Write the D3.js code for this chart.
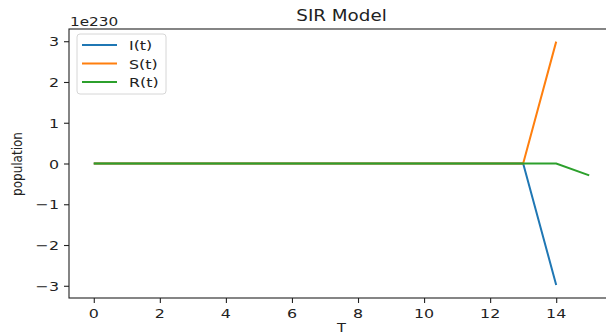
<!DOCTYPE html>
<html>
<head>
<meta charset="utf-8">
<script src="https://cdn.jsdelivr.net/npm/d3@7"></script>
<style>
  body { margin: 0; background: #fff; }
  svg { display: block; font-family: "DejaVu Sans", sans-serif; }
</style>
</head>
<body>
<svg id="chart" width="606" height="334"></svg>
<script>
// values in units of 1e230 (the axis offset)
const tI = [0, 1, 2, 3, 4, 5, 6, 7, 8, 9, 10, 11, 12, 13, 14];
const tS = [0, 1, 2, 3, 4, 5, 6, 7, 8, 9, 10, 11, 12, 13, 14];
const tR = [0, 1, 2, 3, 4, 5, 6, 7, 8, 9, 10, 11, 12, 13, 14, 15];
const I = [0, 0, 0, 0, 0, 0, 0, 0, 0, 0, 0, 0, 0, 0, -2.98];
const S = [0, 0, 0, 0, 0, 0, 0, 0, 0, 0, 0, 0, 0, 0, 2.99];
const R = [0, 0, 0, 0, 0, 0, 0, 0, 0, 0, 0, 0, 0, 0, 0, -0.29];
const xTicks = [0, 2, 4, 6, 8, 10, 12, 14];
const yTicks = [-3, -2, -1, 0, 1, 2, 3];
const offsetLabel = '1e230';

const series = [
  { name: 'I(t)', t: tI, v: I, color: '#1f77b4' },
  { name: 'S(t)', t: tS, v: S, color: '#ff7f0e' },
  { name: 'R(t)', t: tR, v: R, color: '#2ca02c' }
];

const svg = d3.select('#chart');
const mLeft = 69, mTop = 29, mBottom = 298, mRight = 614;
const sx = 1.22; // picture is a bit stretched sideways

const x = d3.scaleLinear().domain([-0.75, 15.75]).range([mLeft, mRight]);
const y = d3.scaleLinear().domain([-3.3, 3.3]).range([mBottom, mTop]);

function label(g, txt, px, py, size, anchor, rot) {
  return g.append('text')
    .attr('transform', 'translate(' + px + ',' + py + ') scale(' + sx + ',1)' + (rot ? ' rotate(' + rot + ')' : ''))
    .attr('text-anchor', anchor)
    .attr('font-size', size)
    .attr('fill', '#222')
    .text(txt);
}

// lines
const line = d3.line().x(d => x(d[0])).y(d => y(d[1]));
series.forEach(s => {
  svg.append('path')
    .datum(s.t.map((t, i) => [t, s.v[i]]))
    .attr('fill', 'none')
    .attr('stroke', s.color)
    .attr('stroke-width', 2)
    .attr('d', line);
});

// axes
const ax = svg.append('g').attr('transform', 'translate(0,' + mBottom + ')')
  .call(d3.axisBottom(x).tickValues(xTicks).tickSize(5).tickFormat(''));
const ay = svg.append('g').attr('transform', 'translate(' + mLeft + ',0)')
  .call(d3.axisLeft(y).tickValues(yTicks).tickSize(5).tickFormat(''));
[ax, ay].forEach(a => {
  a.select('.domain').remove();
  a.selectAll('line').attr('stroke', '#222').attr('stroke-width', 1.1);
});
xTicks.forEach(t => label(svg, t, x(t), 318, 13, 'middle'));
yTicks.forEach(t => label(svg, d3.format('')(t), 59, y(t) + 5, 13, 'end'));

// frame
svg.append('rect')
  .attr('x', mLeft).attr('y', mTop)
  .attr('width', mRight - mLeft).attr('height', mBottom - mTop)
  .attr('fill', 'none').attr('stroke', '#222').attr('stroke-width', 1.1);

// texts
label(svg, 'SIR Model', (mLeft + mRight) / 2, 21, 15, 'middle');
label(svg, offsetLabel, 70, 26, 12.5, 'start');
label(svg, 'T', (mLeft + mRight) / 2, 332, 12, 'middle');
label(svg, 'population', 22, 164, 12, 'middle', -90);

// legend
const lg = svg.append('g');
lg.append('rect')
  .attr('x', 77).attr('y', 34).attr('width', 89).attr('height', 60)
  .attr('rx', 3)
  .attr('fill', 'rgba(255,255,255,0.8)').attr('stroke', '#d6d6d6');
series.forEach((s, i) => {
  const yy = 45 + i * 18.5;
  lg.append('line')
    .attr('x1', 82).attr('x2', 117).attr('y1', yy).attr('y2', yy)
    .attr('stroke', s.color).attr('stroke-width', 2);
  label(lg, s.name, 129, yy + 5, 13, 'start');
});
</script>
</body>
</html>
